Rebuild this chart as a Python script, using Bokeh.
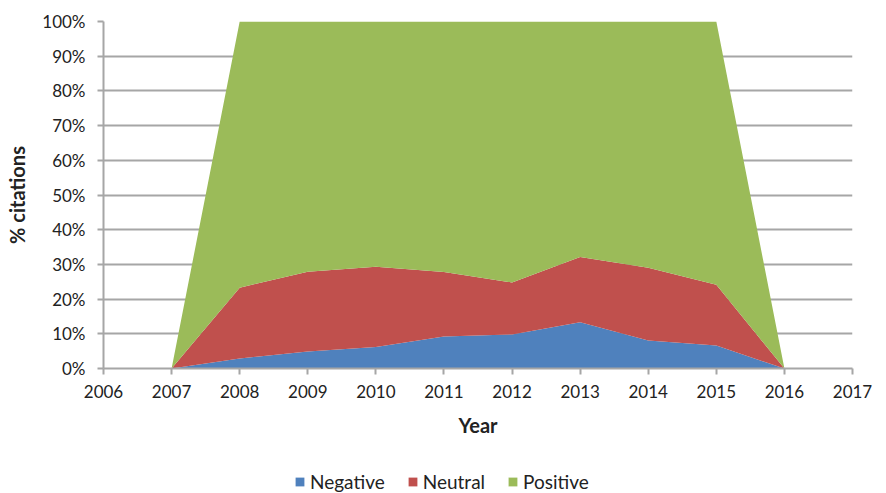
from bokeh.plotting import figure
from bokeh.layouts import column
from bokeh.models import Range1d, PrintfTickFormatter, FixedTicker, Legend, LegendItem, ColumnDataSource
from bokeh.embed import file_html
from bokeh.resources import INLINE

years = [2007, 2008, 2009, 2010, 2011, 2012, 2013, 2014, 2015, 2016]
negative = [0, 2.9, 4.9, 6.2, 9.2, 9.8, 13.3, 8.1, 6.6, 0]
neutral = [0, 20.4, 23.0, 23.1, 18.6, 15.0, 18.8, 20.9, 17.5, 0]
positive = [0, 76.7, 72.1, 70.7, 72.2, 75.2, 67.9, 71.0, 75.9, 0]
series = ["Negative", "Neutral", "Positive"]
colors = ["#4F81BD", "#C0504D", "#9BBB59"]
x_ticks = list(range(2006, 2018))
y_ticks = list(range(0, 101, 10))

src = ColumnDataSource(dict(year=years, Negative=negative, Neutral=neutral, Positive=positive))

FONT = "Lato"
GRID = "#A6A6A6"

p = figure(width=886, height=463, output_backend="svg", toolbar_location=None,
           x_range=Range1d(2006, 2017), y_range=Range1d(0, 100),
           min_border_left=103, min_border_right=34, min_border_top=21, min_border_bottom=95)
p.outline_line_color = None

rs = p.varea_stack(stackers=series, x="year", color=colors, source=src)

p.xgrid.grid_line_color = None
p.ygrid.grid_line_color = GRID
p.ygrid.grid_line_width = 2
p.ygrid.level = "underlay"

p.xaxis.ticker = FixedTicker(ticks=x_ticks)
p.yaxis.ticker = FixedTicker(ticks=y_ticks)
p.yaxis.formatter = PrintfTickFormatter(format="%d%%")
for ax in (p.xaxis[0], p.yaxis[0]):
    ax.axis_line_color = GRID
    ax.axis_line_width = 2
    ax.major_tick_line_color = GRID
    ax.major_tick_line_width = 2
    ax.major_tick_out = 6
    ax.major_tick_in = 0
    ax.minor_tick_line_color = None
    ax.major_label_text_font = FONT
    ax.major_label_text_font_size = "17px"
    ax.major_label_text_color = "#222222"
    ax.axis_label_text_font = FONT
    ax.axis_label_text_font_size = "20px"
    ax.axis_label_text_font_style = "bold"
    ax.axis_label_text_color = "#222222"

p.xaxis.axis_label = "Year"
p.yaxis.axis_label = "% citations"
p.xaxis.major_label_standoff = 10
p.xaxis.axis_label_standoff = 12
p.yaxis.major_label_standoff = 12
p.yaxis.axis_label_standoff = 10

# legend strip below the chart
p2 = figure(width=886, height=30, output_backend="svg", toolbar_location=None,
            x_range=Range1d(2006, 2017), y_range=Range1d(1000, 1001),
            x_axis_type=None, y_axis_type=None,
            min_border_left=0, min_border_right=0, min_border_top=0, min_border_bottom=0)
p2.outline_line_color = None
p2.xgrid.visible = False
p2.ygrid.visible = False
rs2 = p2.varea_stack(stackers=series, x="year", color=colors, source=src)

legend = Legend(items=[LegendItem(label=s, renderers=[r]) for s, r in zip(series, rs2)],
                orientation="horizontal", location=(191, 0))
legend.glyph_width = 11
legend.glyph_height = 11
legend.label_standoff = 5
legend.spacing = 22
legend.padding = 0
legend.margin = 0
legend.border_line_color = None
legend.background_fill_alpha = 0
legend.label_text_font = FONT
legend.label_text_font_size = "19px"
legend.label_text_color = "#222222"
p2.add_layout(legend, "center")

layout = column(p, p2, spacing=0)
open("out.html", "w").write(file_html(layout, INLINE))
